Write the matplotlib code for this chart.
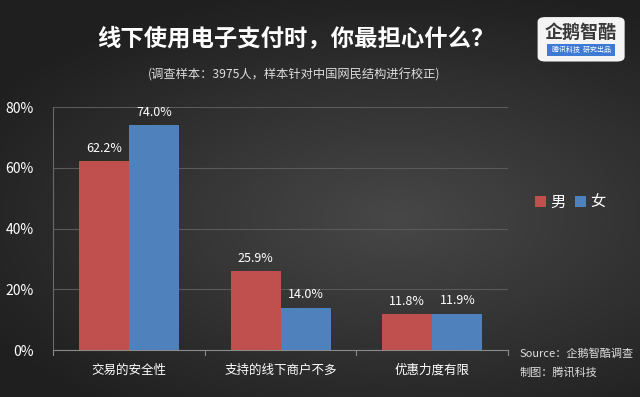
import numpy as np
import matplotlib
matplotlib.use("Agg")
import matplotlib.pyplot as plt
from matplotlib.patches import FancyBboxPatch, Rectangle

plt.rcParams['font.family'] = ['Noto Sans CJK SC', 'DejaVu Sans']

# data
categories = ["交易的安全性", "支持的线下商户不多", "优惠力度有限"]
male = [62.2, 25.9, 11.8]
female = [74.0, 14.0, 11.9]
yticks = [0, 20, 40, 60, 80]

red = "#c0504d"
blue = "#4f81bd"

fig = plt.figure(figsize=(6.4, 3.97), dpi=100)

# background gradient
bg = fig.add_axes([0, 0, 1, 1], zorder=-10)
yy, xx = np.mgrid[0:1:200j, 0:1:320j]
r = np.sqrt(((xx - 0.62) / 1.0) ** 2 + ((yy - 0.55) / 0.8) ** 2)
val = np.clip(1 - r / 0.75, 0, 1)
bg.imshow(val, cmap=matplotlib.colors.LinearSegmentedColormap.from_list(
    "bg", ["#1f1f1f", "#474747"]), aspect="auto", extent=[0, 1, 0, 1], origin="upper")
bg.axis("off")

ax = fig.add_axes([0.083, 0.118, 0.711, 0.612])
ax.set_facecolor("none")

x = np.arange(len(categories))
w = 0.33
b1 = ax.bar(x - w / 2, male, w, color=red, label="男", zorder=3)
b2 = ax.bar(x + w / 2, female, w, color=blue, label="女", zorder=3)

for bars, vals in ((b1, male), (b2, female)):
    for rect, v in zip(bars, vals):
        ax.text(rect.get_x() + rect.get_width() / 2, v + 2.2, f"{v:.1f}%",
                ha="center", va="bottom", color="white", fontsize=9)

ax.set_xlim(-0.5, len(categories) - 0.5)
ax.set_ylim(0, 80)
ax.set_yticks(yticks)
ax.set_yticklabels([f"{t}%" for t in yticks], color="white", fontsize=10)
ax.set_xticks(x)
ax.set_xticklabels(categories, color="white", fontsize=9)
ax.tick_params(axis="x", length=0, pad=10)
ax.tick_params(axis="y", length=0, pad=14)
for b in [-0.5, 0.5, 1.5, 2.5]:
    ax.plot([b, b], [0, -1.5], color="#8a8a8a", lw=0.8, clip_on=False)
ax.yaxis.grid(True, color="#5a5a5a", lw=0.8, zorder=0)
for s in ["top", "right"]:
    ax.spines[s].set_visible(False)
ax.spines["left"].set_color("#6a6a6a")
ax.spines["bottom"].set_color("#8a8a8a")

# legend
fig.legend(handles=[b1, b2], labels=["男", "女"], loc="center left",
           bbox_to_anchor=(0.815, 0.49), ncol=2, frameon=False,
           handlelength=0.7, handleheight=0.7, handletextpad=0.3,
           columnspacing=0.6, labelcolor="white", fontsize=11)

# titles
fig.text(0.462, 0.905, "线下使用电子支付时，你最担心什么？", color="white",
         fontsize=16.8, fontweight="bold", ha="center", va="center")
fig.text(0.459, 0.812, "(调查样本：3975人，样本针对中国网民结构进行校正)",
         color="#dddddd", fontsize=8.8, ha="center", va="center")

# source
fig.text(0.812, 0.11, "Source：企鹅智酷调查", color="#dddddd", fontsize=8,
         style="italic", ha="left", va="center")
fig.text(0.812, 0.063, "制图：腾讯科技", color="#dddddd", fontsize=8,
         style="italic", ha="left", va="center")

# logo
logo = FancyBboxPatch((0.84, 0.845), 0.136, 0.112,
                      boxstyle="round,pad=0,rounding_size=0.012",
                      transform=fig.transFigure, facecolor="#f4f4f4",
                      edgecolor="none")
fig.patches.append(logo)
fig.text(0.908, 0.918, "企鹅智酷", color="#3a3a3a", fontsize=13,
         ha="center", va="center", fontweight="bold")
band = Rectangle((0.855, 0.86), 0.106, 0.028, transform=fig.transFigure,
                 facecolor="#3d7ad6", edgecolor="none")
fig.patches.append(band)
fig.text(0.908, 0.874, "腾讯科技  研究出品", color="white", fontsize=5,
         ha="center", va="center", style="italic")

fig.savefig("out.png", dpi=100)
